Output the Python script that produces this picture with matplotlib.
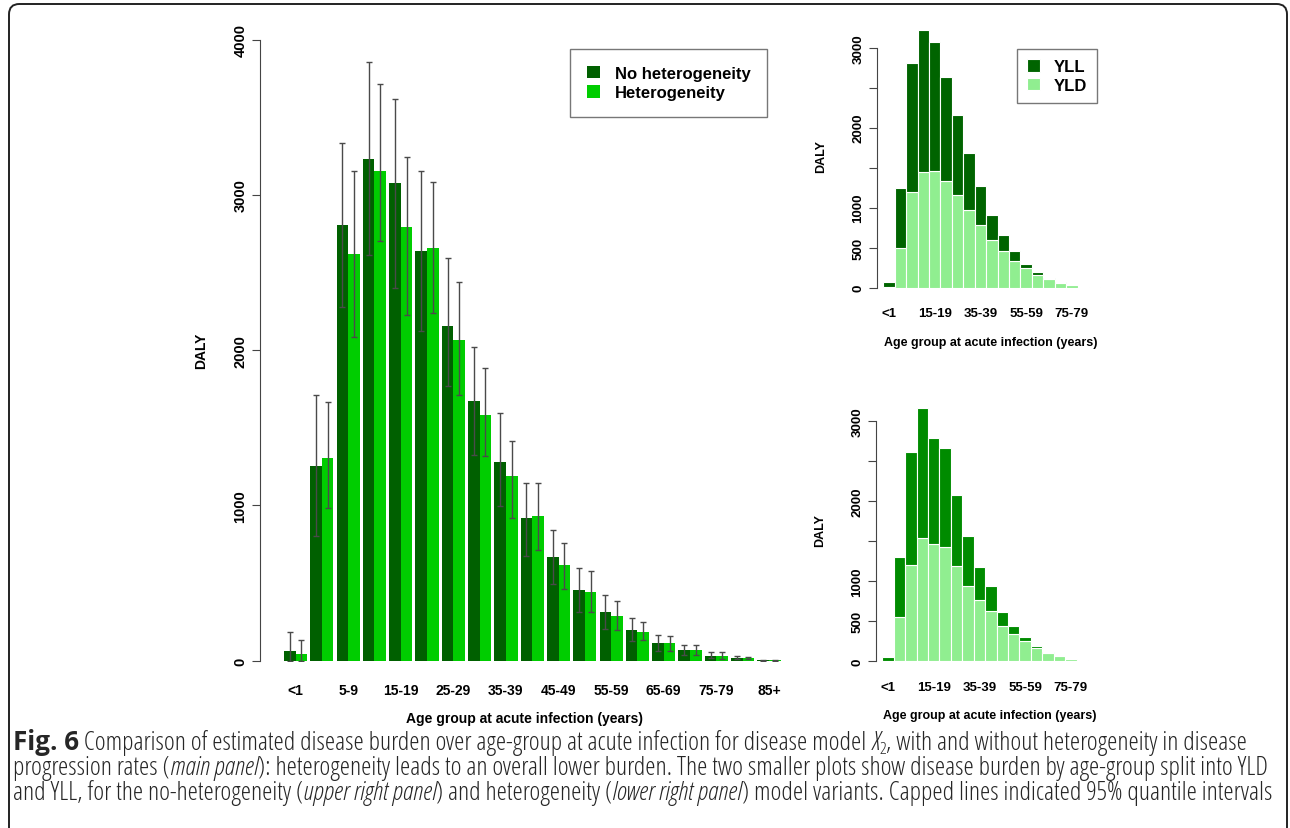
import numpy as np
import matplotlib
matplotlib.use("Agg")
import matplotlib.pyplot as plt
from matplotlib import font_manager
from matplotlib.patches import FancyBboxPatch

# age groups at acute infection
groups = ['<1', '1-4', '5-9', '10-14', '15-19', '20-24', '25-29', '30-34', '35-39',
          '40-44', '45-49', '50-54', '55-59', '60-64', '65-69', '70-74', '75-79',
          '80-84', '85+']

# main panel: DALY with 95% quantile intervals
no_het = [60, 1252, 2807, 3233, 3078, 2642, 2159, 1675, 1278, 917, 666, 455, 312, 198, 112, 69, 32, 17, 3]
no_het_lo = [0, 801, 2279, 2610, 2399, 2126, 1768, 1325, 995, 673, 494, 316, 204, 125, 64, 37, 15, 8, 1]
no_het_hi = [183, 1712, 3336, 3856, 3619, 3153, 2593, 2019, 1594, 1143, 844, 595, 423, 275, 166, 101, 58, 28, 6]
het = [40, 1304, 2620, 3157, 2792, 2659, 2068, 1583, 1188, 934, 617, 440, 290, 187, 114, 71, 30, 16, 3]
het_lo = [0, 982, 2084, 2706, 2227, 2240, 1712, 1317, 917, 715, 462, 316, 200, 135, 64, 37, 14, 8, 1]
het_hi = [135, 1665, 3153, 3716, 3247, 3086, 2442, 1884, 1418, 1145, 756, 580, 383, 251, 157, 101, 55, 26, 6]

# upper right: no heterogeneity split
yld_nohet = [5, 496, 1192, 1442, 1454, 1329, 1163, 971, 784, 600, 463, 330, 246, 163, 109, 60, 34, 14, 3]
yll_nohet = [62, 750, 1617, 1783, 1621, 1309, 996, 713, 491, 313, 200, 125, 50, 37, 8, 7, 4, 1, 0]
# lower right: heterogeneity split
yld_het = [10, 558, 1208, 1537, 1466, 1425, 1187, 938, 766, 625, 446, 341, 250, 163, 100, 62, 27, 14, 3]
yll_het = [40, 750, 1412, 1625, 1325, 1237, 892, 632, 409, 313, 174, 105, 50, 25, 12, 8, 3, 2, 0]

W, H = 1290, 829
fig = plt.figure(figsize=(W / 100, H / 100), dpi=100)
plt.rcParams['font.family'] = ['Liberation Sans', 'DejaVu Sans']


def box(left, right, top, bottom):
    return [left / W, 1 - bottom / H, (right - left) / W, (bottom - top) / H]


def style_axis(ax, ymax, yticks, ylabels, tick_size, lab_size, pad):
    for s in ['top', 'right', 'bottom']:
        ax.spines[s].set_visible(False)
    ax.spines['left'].set_bounds(0, ymax)
    ax.spines['left'].set_color('#444444')
    ax.set_yticks(yticks)
    ax.set_yticklabels(ylabels, rotation=90, va='center', fontsize=tick_size, fontweight='bold')
    ax.tick_params(axis='y', direction='out', length=6, color='#444444', pad=3)
    ax.tick_params(axis='x', length=0, pad=pad, labelsize=tick_size)
    for t in ax.get_xticklabels():
        t.set_fontweight('bold')
    ax.set_ylabel('DALY', fontsize=lab_size, fontweight='bold', labelpad=12)
    ax.set_xlabel('Age group at acute infection (years)', fontsize=lab_size,
                  fontweight='bold', labelpad=12)


x = np.arange(len(groups))

# ---- main panel
ax = fig.add_axes(box(260, 790, 40.7, 661.7))
bw = 0.44
dark, bright = '#006000', '#00CD00'
ax.bar(x - bw / 2, no_het, bw, color=dark, label='No heterogeneity')
ax.bar(x + bw / 2, het, bw, color=bright, label='Heterogeneity')
ax.errorbar(x - bw / 2, no_het, yerr=[np.array(no_het) - no_het_lo, np.array(no_het_hi) - no_het],
            fmt='none', ecolor='#4a4a4a', elinewidth=1, capsize=2.5, capthick=1)
ax.errorbar(x + bw / 2, het, yerr=[np.array(het) - het_lo, np.array(het_hi) - het],
            fmt='none', ecolor='#4a4a4a', elinewidth=1, capsize=2.5, capthick=1)
ax.set_xlim(-1.35, 18.8)
ax.set_ylim(0, 4000)
ax.set_xticks(x[::2])
ax.set_xticklabels(groups[::2])
style_axis(ax, 4000, [0, 1000, 2000, 3000, 4000], ['0', '1000', '2000', '3000', '4000'], 10.5, 10, 16)
ax.tick_params(axis='x', labelsize=10)
ax.yaxis.labelpad = 18
ax.xaxis.labelpad = 10
leg = ax.legend(loc='upper left', bbox_to_anchor=((570 - 260) / 530, 1 - (50 - 40.7) / 621),
                frameon=True, fancybox=False, edgecolor='#555555', prop={'weight': 'bold', 'size': 12},
                handlelength=0.8, handleheight=0.8, borderpad=1.0, labelspacing=0.25,
                handletextpad=0.9, borderaxespad=0)
leg.get_frame().set_linewidth(1)

# ---- right panels
panels = [
    (box(877, 1105, 24.7, 288.7), yld_nohet, yll_nohet, '#006400', True),
    (box(876, 1104, 398.3, 662.3), yld_het, yll_het, '#008B00', False),
]
for pos, yld, yll, yll_col, show_leg in panels:
    a = fig.add_axes(pos)
    a.bar(x, yld, 1.0, color='#90EE90', edgecolor='white', linewidth=0.8, label='YLD')
    a.bar(x, yll, 1.0, bottom=yld, color=yll_col, edgecolor='white', linewidth=0.8, label='YLL')
    a.set_xlim(-1.05, 18.9)
    a.set_ylim(0, 3300)
    a.set_xticks(x[::4])
    a.set_xticklabels(groups[::4])
    style_axis(a, 3000, [0, 500, 1000, 1500, 2000, 2500, 3000],
               ['0', '500', '1000', '', '2000', '', '3000'], 9.5, 9, 14)
    a.yaxis.labelpad = 18
    if show_leg:
        h, l = a.get_legend_handles_labels()
        lg = a.legend(h[::-1], l[::-1], loc='upper left',
                      bbox_to_anchor=((1017 - 877) / 228, 1 - (50 - 24.7) / 264),
                      frameon=True, fancybox=False, edgecolor='#555555',
                      prop={'weight': 'bold', 'size': 12}, handlelength=0.8, handleheight=0.8,
                      borderpad=0.6, labelspacing=0.2, handletextpad=0.8, borderaxespad=0)
        lg.get_frame().set_linewidth(1)

# ---- frame around figure and caption
frame = FancyBboxPatch((9 / W, 1 - 840 / H), (1287 - 9) / W, (840 - 5) / H,
                       boxstyle='round,pad=0,rounding_size=0.008', transform=fig.transFigure,
                       fill=False, edgecolor='#222222', linewidth=1.4, mutation_aspect=W / H)
fig.patches.append(frame)

cap_font = 'Open Sans'
renderer = fig.canvas.get_renderer()

line1 = [('Fig. 6', 'b'),
         (' Comparison of estimated disease burden over age-group at acute infection for disease model ', 'n'),
         ('X', 'i'), ('2', 's'), (', with and without heterogeneity in disease', 'n')]
line2 = [('progression rates (', 'n'), ('main panel', 'i'),
         ('): heterogeneity leads to an overall lower burden. The two smaller plots show disease burden by age-group split into YLD', 'n')]
line3 = [('and YLL, for the no-heterogeneity (', 'n'), ('upper right panel', 'i'),
         (') and heterogeneity (', 'n'), ('lower right panel', 'i'),
         (') model variants. Capped lines indicated 95% quantile intervals', 'n')]


def props_for(st, size):
    return font_manager.FontProperties(family=cap_font, size=size * (0.65 if st == 's' else 1),
                                       stretch='condensed',
                                       weight='bold' if st == 'b' else 'normal',
                                       style='italic' if st == 'i' else 'normal')


def seg_width(txt, props):
    full = renderer.get_text_width_height_descent('|' + txt + '|', props, ismath=False)[0]
    bars = renderer.get_text_width_height_descent('||', props, ismath=False)[0]
    return full - bars


def line_width(parts, size):
    return sum(seg_width(t, props_for(st, size)) for t, st in parts)


# longest caption line runs from x=13 to ~1272 px in the reference
cap_size = 12.5 * 1259 / max(line_width(l, 12.5) for l in (line1, line2, line3))


def put_line(px, py, parts):
    xx = px
    for txt, st in parts:
        props = props_for(st, cap_size)
        yy = py + (4 if st == 's' else 0)
        fig.text(xx / W, 1 - yy / H, txt, fontproperties=props, color='#262626', va='baseline')
        xx += seg_width(txt, props)


put_line(13, 750, line1)
put_line(13, 775, line2)
put_line(13, 800, line3)

fig.savefig('out.png', dpi=100)
